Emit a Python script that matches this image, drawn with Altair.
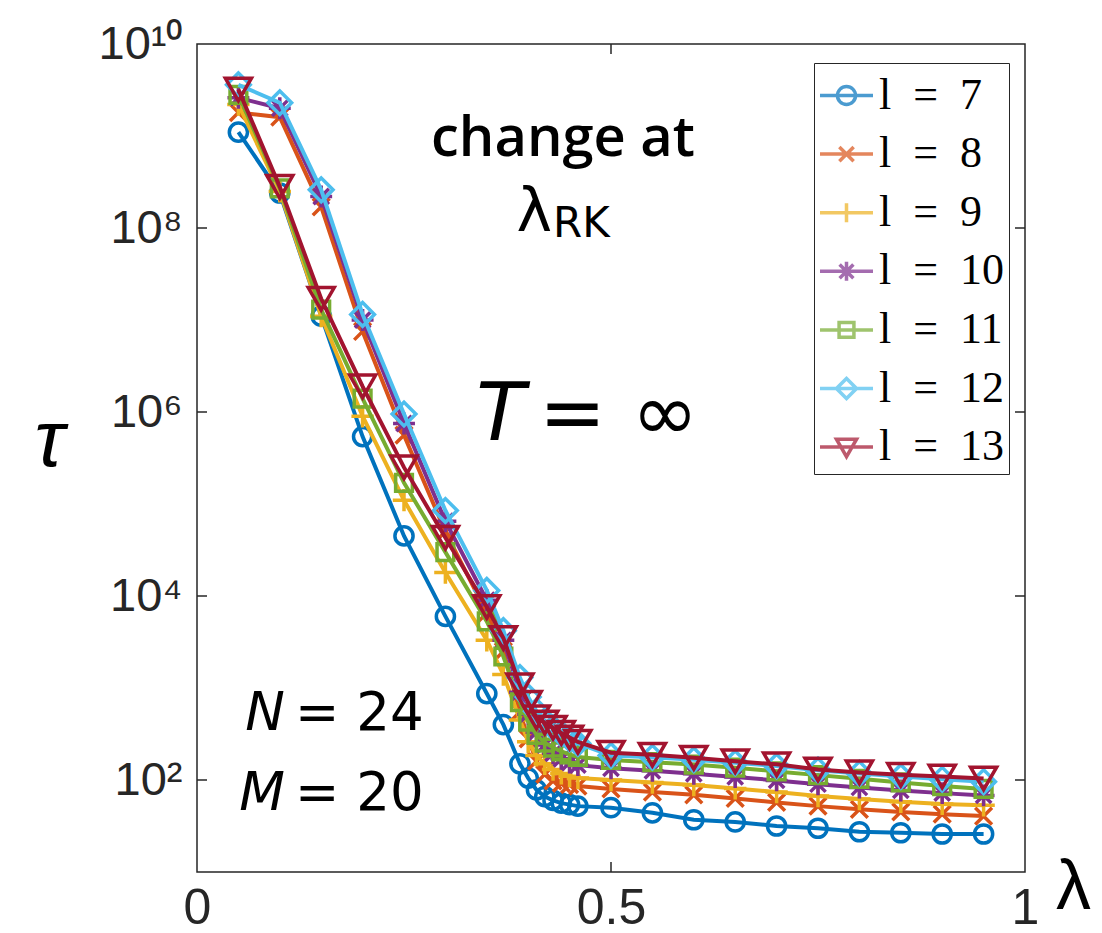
import altair as alt
import pandas as pd
import math

# ---------------- data ----------------
lam = [0.05, 0.10, 0.15, 0.20, 0.25, 0.30, 0.35, 0.37, 0.39, 0.40, 0.41, 0.42, 0.43,
       0.44, 0.45, 0.46, 0.50, 0.55, 0.60, 0.65, 0.70, 0.75, 0.80, 0.85, 0.90, 0.95]

tau_l7 = [1.1e9, 2.4e8, 1.1e7, 5.4e5, 4.5e4, 6.0e3, 870, 400, 150, 105, 78, 66, 60,
          56, 54, 52, 50, 44, 37, 35, 31.6, 29.9, 27.4, 26.7, 25.9, 25.9]
tau_l8 = [1.8e9, 1.6e9, 1.7e8, 7.5e6, 5.6e5, 5.0e4, 6.5e3, 2.5e3, 550, 280, 160, 115, 98,
          92, 89, 86, 80, 74, 69, 63, 57, 52, 48, 45, 42.5, 40.5]
tau_l9 = [2.2e9, 2.5e8, 1.1e7, 9.0e5, 1.1e5, 1.8e4, 3.3e3, 1.4e3, 450, 260, 185, 150, 130,
          118, 110, 105, 100, 94, 88, 81, 74, 67, 62, 58, 55, 53]
tau_l10 = [2.6e9, 2.0e9, 2.2e8, 1.0e7, 7.5e5, 6.5e4, 9.0e3, 3.3e3, 900, 520, 330, 240, 195,
           170, 155, 145, 134, 126, 117, 108, 99, 90, 83, 77, 72, 68]
tau_l11 = [2.8e9, 2.7e8, 1.3e7, 1.4e6, 1.7e5, 3.0e4, 5.3e3, 2.2e3, 700, 430, 310, 255, 225,
           205, 190, 178, 165, 156, 147, 136, 124, 113, 103, 94, 86, 80]
tau_l12 = [3.6e9, 2.3e9, 2.6e8, 1.15e7, 9.5e5, 8.5e4, 1.15e4, 4.2e3, 1.3e3, 800, 560, 440, 370,
           320, 280, 250, 185, 177, 166, 154, 142, 128, 118, 109, 102, 96]
tau_l13 = [3.2e9, 2.8e8, 1.7e7, 1.9e6, 2.5e5, 4.3e4, 7.6e3, 3.5e3, 1.07e3, 690, 480, 420, 370,
           325, 290, 260, 198, 188, 174, 160, 148, 130, 121, 114, 109, 104]

levels = [7, 8, 9, 10, 11, 12, 13]
series = [tau_l7, tau_l8, tau_l9, tau_l10, tau_l11, tau_l12, tau_l13]
labels = ["l\u2002=\u2002" + str(l) for l in levels]
colors = ["#0072BD", "#D95319", "#EDB120", "#7E2F8E", "#77AC30", "#4DBEEE", "#A2142F"]

# marker shapes (MATLAB o, x, +, *, s, d, v)
marker_shapes = [
    "circle",
    "M-0.75,-0.75L0.75,0.75M-0.75,0.75L0.75,-0.75",
    "M-1,0H1M0,-1V1",
    "M-1,0H1M0,-1V1M-0.7,-0.7L0.7,0.7M-0.7,0.7L0.7,-0.7",
    "square",
    "diamond",
    "triangle-down",
]
marker_sizes = [330, 500, 500, 480, 280, 560, 680]

# legend symbols: a line segment with the marker on it
legend_shapes = [
    "M-1,0H1M-0.34,0A0.34,0.34,0,1,1,0.34,0A0.34,0.34,0.0,1,1,-0.34,0",
    "M-1,0H1M-0.27,-0.27L0.27,0.27M-0.27,0.27L0.27,-0.27",
    "M-1,0H1M0,-0.36V0.36",
    "M-1,0H1M0,-0.36V0.36M-0.26,-0.26L0.26,0.26M-0.26,0.26L0.26,-0.26",
    "M-1,0H1M-0.28,-0.28H0.28V0.28H-0.28Z",
    "M-1,0H1M-0.38,0L0,-0.38L0.38,0L0,0.38Z",
    "M-1,0H1M-0.38,-0.3H0.38L0,0.36Z",
]

ytick_vals = [1e2, 1e4, 1e6, 1e8, 1e10]
ytick_text = ["10\u00b2", "10\u2074", "10\u2076", "10\u2078", "10\u00b9\u2070"]
xtick_vals = [0, 0.5, 1]

# annotations (data coordinates)
ann_italic_text = ["T", "N", "M"]
ann_italic_x = [0.3986, 0.1087, 0.1087]
ann_italic_y = [4.97e5, 349, 47]
ann_italic_size = [80, 53, 53]
ann_upright_text = ["= \u221e", "= 24", "= 20"]
ann_upright_dx = [12, 8, 8]

# ---------------- build tables ----------------
rows = []
for l, lbl, vals in zip(levels, labels, series):
    for x, v in zip(lam, vals):
        rows.append({"lam": x, "tau": v, "l": l, "lbl": lbl})
df = pd.DataFrame(rows)

W = H = 828
xs = alt.Scale(domain=[0, 1], nice=False, zero=False)
ys = alt.Scale(type="log", domain=[10, 1e10], nice=False)

ylabel_expr = ""
for v, t in zip(ytick_vals, ytick_text):
    ylabel_expr += f"abs(log(datum.value)/LN10 - {round(math.log10(v))}) < 0.1 ? '{t}' : "
ylabel_expr += "''"

x_enc = alt.X("lam:Q", scale=xs, axis=alt.Axis(
    values=xtick_vals, labelExpr="datum.value == 0.5 ? '0.5' : format(datum.value, 'd')",
    labelFont="Liberation Sans", labelFontSize=50, labelColor="#262626", labelPadding=11,
    labelFlush=False, labelOverlap=False, ticks=False, domain=False, grid=False,
    title="\u03bb", titleFont="Liberation Sans", titleFontSize=70, titleFontWeight="normal",
    titleColor="black", titleX=876, titleY=36, titleAlign="center", titleBaseline="alphabetic"))
y_enc = alt.Y("tau:Q", scale=ys, axis=alt.Axis(
    values=ytick_vals, labelExpr=ylabel_expr,
    labelFont="Liberation Sans", labelFontSize=47, labelColor="#262626", labelPadding=15,
    labelFlush=False, labelOverlap=False, ticks=False, domain=False, grid=False,
    title="\u03c4", titleFont="Liberation Sans", titleFontStyle="italic", titleFontSize=80,
    titleFontWeight="normal", titleColor="black", titleAngle=0, titleX=-148, titleY=421,
    titleAlign="center", titleBaseline="alphabetic"))

layers = []
for i, l in enumerate(levels):
    base = alt.Chart(df).transform_filter(alt.datum.l == l)
    layers.append(base.mark_line(color=colors[i], strokeWidth=4).encode(x=x_enc, y=y_enc))
    layers.append(base.mark_point(shape=marker_shapes[i], color=colors[i], filled=False,
                                  strokeWidth=3.5, size=marker_sizes[i], opacity=1)
                  .encode(x=x_enc, y=y_enc))

# inward tick marks on all four sides
tlen_x = 10 / W
tlen_dec = 10 / 92.0
tick_rows = []
for v in ytick_vals[:-1]:
    tick_rows.append({"lam": 0, "lam2": tlen_x, "tau": v, "tau2": v})
    tick_rows.append({"lam": 1 - tlen_x, "lam2": 1, "tau": v, "tau2": v})
for v in xtick_vals[1:-1]:
    tick_rows.append({"lam": v, "lam2": v, "tau": 10, "tau2": 10 ** (1 + tlen_dec)})
    tick_rows.append({"lam": v, "lam2": v, "tau": 10 ** (10 - tlen_dec), "tau2": 1e10})
ticks = alt.Chart(pd.DataFrame(tick_rows)).mark_rule(color="#262626", strokeWidth=1.5).encode(
    x=x_enc, x2="lam2:Q", y=y_enc, y2="tau2:Q")
layers.append(ticks)

# legend carrier layer (draws no marks)
leg = alt.Legend(orient="none", legendX=617, legendY=19, title=None,
                 strokeColor="#262626", fillColor="white", padding=4, cornerRadius=0,
                 labelFont="Liberation Serif", labelFontSize=44, labelColor="black",
                 labelOffset=4, labelLimit=0, symbolSize=2809, symbolStrokeWidth=3.5,
                 rowPadding=7.6)
legend_layer = alt.Chart(df).transform_filter("false").mark_point(
    filled=False, size=2809, strokeWidth=3.5).encode(
    x=x_enc, y=y_enc,
    color=alt.Color("lbl:N", scale=alt.Scale(domain=labels, range=colors), legend=leg),
    shape=alt.Shape("lbl:N", scale=alt.Scale(domain=labels, range=legend_shapes), legend=leg))
layers.append(legend_layer)

# text annotations
ann_it = pd.DataFrame({"lam": ann_italic_x, "tau": ann_italic_y, "txt": ann_italic_text,
                       "fs": ann_italic_size})
layers.append(alt.Chart(ann_it).mark_text(font="DejaVu Sans", fontStyle="italic", align="right",
                                          baseline="alphabetic", dx=-2, color="black").encode(
    x=x_enc, y=y_enc, text="txt:N", size=alt.Size("fs:Q", scale=None)))
for i in range(len(ann_upright_text)):
    up = pd.DataFrame({"lam": [ann_italic_x[i]], "tau": [ann_italic_y[i]],
                       "txt": [ann_upright_text[i]]})
    layers.append(alt.Chart(up).mark_text(font="DejaVu Sans", align="left",
                                          fontSize=ann_italic_size[i],
                                          baseline="alphabetic", dx=ann_upright_dx[i],
                                          color="black").encode(
        x=x_enc, y=y_enc, text="txt:N"))

change_df = pd.DataFrame({"lam": [0.442], "tau": [6.06e8], "txt": ["change at"]})
layers.append(alt.Chart(change_df).mark_text(font="Open Sans", fontWeight=600, fontSize=56,
                                             align="center", baseline="alphabetic",
                                             color="black").encode(
    x=x_enc, y=y_enc, text="txt:N"))
lrk_df = pd.DataFrame({"lam": [0.386, 0.430], "tau": [9.27e7, 7.98e7], "txt": ["\u03bb", "RK"],
                       "fs": [60, 42]})
layers.append(alt.Chart(lrk_df).mark_text(font="DejaVu Sans", align="left",
                                          baseline="alphabetic", color="black").encode(
    x=x_enc, y=y_enc, text="txt:N", size=alt.Size("fs:Q", scale=None)))

chart = alt.layer(*layers).properties(
    width=W, height=H,
    padding={"left": 197, "top": 44, "right": 77, "bottom": 61},
    autosize=alt.AutoSizeParams(type="none"),
    background="white",
).configure_view(stroke="#262626", strokeWidth=1.5)

chart.save("out.html", embed_options={"renderer": "svg", "actions": False})
